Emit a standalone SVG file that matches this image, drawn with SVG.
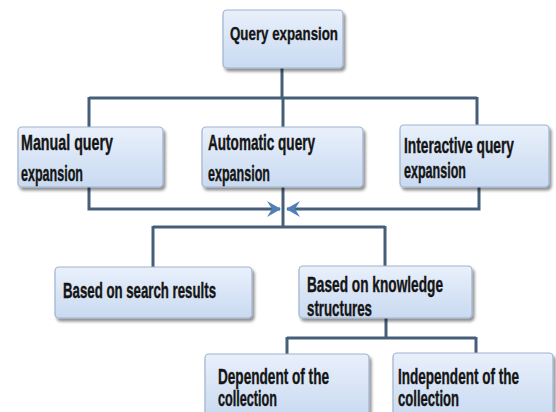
<svg xmlns="http://www.w3.org/2000/svg" width="556" height="412" viewBox="0 0 556 412">
<defs>
<linearGradient id="bg" x1="0" y1="0" x2="0" y2="1">
<stop offset="0" stop-color="#e9f0fb"/>
<stop offset="1" stop-color="#c9daf1"/>
</linearGradient>
<filter id="sh" x="-10%" y="-10%" width="125%" height="135%">
<feGaussianBlur in="SourceAlpha" stdDeviation="1.5"/>
<feOffset dx="1.5" dy="2.5" result="b"/>
<feComponentTransfer><feFuncA type="linear" slope="0.45"/></feComponentTransfer>
<feMerge><feMergeNode/><feMergeNode in="SourceGraphic"/></feMerge>
</filter>
<marker id="ah" viewBox="0 0 14 16" refX="13" refY="8" markerWidth="14" markerHeight="16" markerUnits="userSpaceOnUse" orient="auto">
<path d="M0,0 L14,8 L0,16 L5,8 Z" fill="#4f7fb8"/>
</marker>
</defs>
<style>
.box{fill:url(#bg);stroke:#9fb3cf;stroke-width:1.2;filter:url(#sh)}
.t{font-family:"Liberation Sans",Arial,sans-serif;font-weight:bold;font-size:13.6px;fill:#151515;stroke:#151515;stroke-width:0.25}
.ln{fill:none;stroke:#465f78;stroke-width:3}
.ar{fill:none;stroke:#465f78;stroke-width:3;marker-end:url(#ah)}
</style>
<rect width="556" height="412" fill="#ffffff"/>
<g id="connectors">
<path class="ln" d="M282,68 V98"/>
<path class="ln" d="M89,98 H477"/>
<path class="ln" d="M89,97 V127 M283,98 V127 M477,97 V125"/>
<path class="ar" d="M89,187 V209 H280"/>
<path class="ar" d="M479,187 V209 H287"/>
<path class="ln" d="M283,187 V227"/>
<path class="ln" d="M153,227 H385"/>
<path class="ln" d="M153,226 V267 M385,226 V266"/>
<path class="ln" d="M386,318 V338"/>
<path class="ln" d="M287,338 H476"/>
<path class="ln" d="M287,337 V354 M476,337 V353"/>
</g>
<g id="n-query">
<rect class="box" x="223" y="10" width="120" height="58" rx="4"/>
<text class="t" transform="translate(230,40) scale(1,1.45)" style="font-size:13.3px" textLength="108" lengthAdjust="spacingAndGlyphs">Query expansion</text>
</g>
<g id="n-manual">
<rect class="box" x="18" y="127" width="145" height="60" rx="4"/>
<text class="t" transform="translate(21,150) scale(1,1.6)" textLength="92" lengthAdjust="spacingAndGlyphs">Manual query</text>
<text class="t" transform="translate(21,181) scale(1,1.6)" textLength="62" lengthAdjust="spacingAndGlyphs">expansion</text>
</g>
<g id="n-automatic">
<rect class="box" x="202" y="127" width="161" height="60" rx="4"/>
<text class="t" transform="translate(208,150) scale(1,1.6)" textLength="107" lengthAdjust="spacingAndGlyphs">Automatic query</text>
<text class="t" transform="translate(208,181) scale(1,1.6)" textLength="62" lengthAdjust="spacingAndGlyphs">expansion</text>
</g>
<g id="n-interactive">
<rect class="box" x="400" y="125" width="149" height="62" rx="4"/>
<text class="t" transform="translate(404,153) scale(1,1.6)" textLength="110" lengthAdjust="spacingAndGlyphs">Interactive query</text>
<text class="t" transform="translate(404,178) scale(1,1.6)" textLength="62" lengthAdjust="spacingAndGlyphs">expansion</text>
</g>
<g id="n-search">
<rect class="box" x="55" y="267" width="197" height="51" rx="4"/>
<text class="t" transform="translate(63,298) scale(1,1.6)" textLength="153" lengthAdjust="spacingAndGlyphs">Based on search results</text>
</g>
<g id="n-knowledge">
<rect class="box" x="299" y="266" width="173" height="52" rx="4"/>
<text class="t" transform="translate(307,292) scale(1,1.6)" textLength="136" lengthAdjust="spacingAndGlyphs">Based on knowledge</text>
<text class="t" transform="translate(307,316) scale(1,1.6)" textLength="65" lengthAdjust="spacingAndGlyphs">structures</text>
</g>
<g id="n-dependent">
<rect class="box" x="205" y="354" width="164" height="62" rx="4"/>
<text class="t" transform="translate(218,384) scale(1,1.6)" textLength="111" lengthAdjust="spacingAndGlyphs">Dependent of the</text>
<text class="t" transform="translate(218,406) scale(1,1.6)" textLength="59" lengthAdjust="spacingAndGlyphs">collection</text>
</g>
<g id="n-independent">
<rect class="box" x="393" y="353" width="160" height="64" rx="4"/>
<text class="t" transform="translate(398,384) scale(1,1.6)" textLength="121" lengthAdjust="spacingAndGlyphs">Independent of the</text>
<text class="t" transform="translate(398,406) scale(1,1.6)" textLength="61" lengthAdjust="spacingAndGlyphs">collection</text>
</g>
</svg>
